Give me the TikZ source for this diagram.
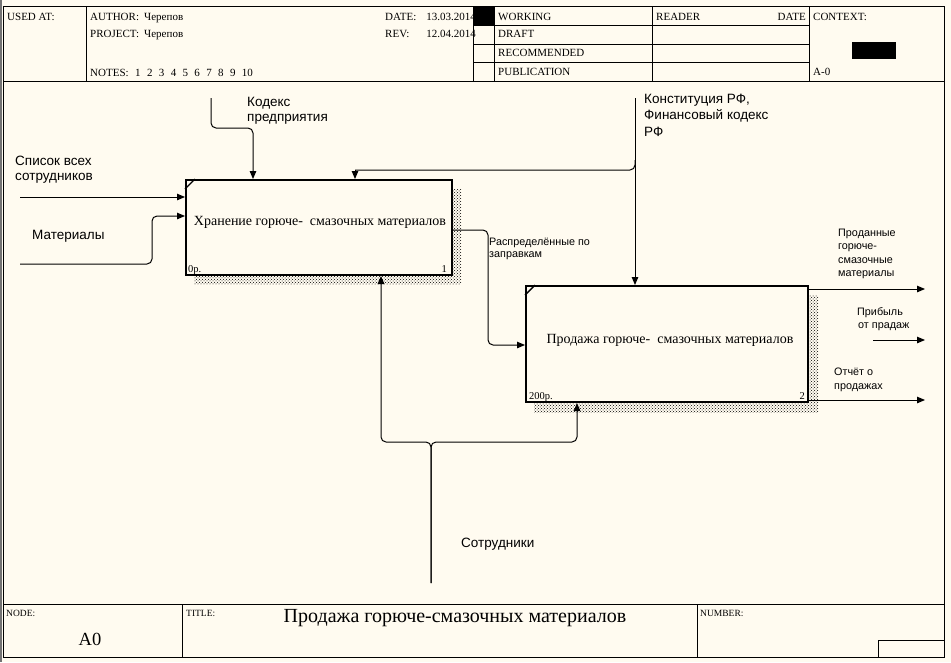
\documentclass[tikz,border=0pt]{standalone}
\usepackage{fontspec}
\setmainfont{Liberation Serif}
\newfontfamily\lsans{Liberation Sans}
\usetikzlibrary{arrows.meta,patterns}
\definecolor{bg}{RGB}{255,251,240}
\begin{document}
\begin{tikzpicture}[x=1pt,y=-1pt,
  frame/.style={line width=1pt},
  conn/.style={line width=1pt, rounded corners=5pt},
  arr/.style={line width=1pt, rounded corners=5pt, -{Triangle[length=8pt,width=6.5pt]}},
  abox/.style={draw, line width=2pt, fill=bg, rectangle, inner sep=0pt},
  shadowfill/.style={pattern=crosshatch dots, pattern color=black},
  hdr/.style={font=\fontsize{11}{12}\selectfont, inner sep=0pt, anchor=base west},
  hdrE/.style={hdr, anchor=base east},
  ftr/.style={font=\fontsize{9.5}{11}\selectfont, inner sep=0pt, anchor=base west},
  lab/.style={font=\lsans\fontsize{13.5}{15}\selectfont, inner sep=0pt, anchor=base west},
  slab/.style={font=\lsans\fontsize{10.8}{12}\selectfont, inner sep=0pt, anchor=base west},
  btxt/.style={font=\fontsize{14}{16}\selectfont, inner sep=0pt, anchor=base},
  bnum/.style={font=\fontsize{10.5}{12}\selectfont, inner sep=0pt},
]
\useasboundingbox (0,0) rectangle (951,662);
\fill[bg] (0,0) rectangle (951,662);
\fill[black!55] (0,0) rectangle (2,662);

% ---------- frame ----------
\draw[frame] (3,6) rectangle (944,657);
\draw[frame] (3,81) -- (944,81);
\draw[frame] (3,604) -- (944,604);
\foreach \xx in {86,473,494,652,809} \draw[frame] (\xx,6) -- (\xx,81);
\foreach \yy in {25,44,62.5} \draw[frame] (473,\yy) -- (809,\yy);
\draw[frame] (182,604) -- (182,657);
\draw[frame] (697,604) -- (697,657);
\draw[frame] (878,640) rectangle (944,657);

% ---------- header texts ----------
\node[hdr] (usedat) at (7,20) {USED AT:};
\node[hdr] (author) at (90,20) {AUTHOR:};
\node[hdr] (authorv) at (144,20) {Черепов};
\node[hdr] (project) at (90,37) {PROJECT:};
\node[hdr] (projectv) at (144,37) {Черепов};
\node[hdr] (notes) at (90,76) {NOTES:};
\foreach \i in {1,...,10} \node[hdr] (note\i) at ({135+11.85*(\i-1)},76) {\i};
\node[hdr] (date) at (385,20) {DATE:};
\node[hdrE] (datev) at (476,20) {13.03.2014};
\node[hdr] (rev) at (385,37) {REV:};
\node[hdrE] (revv) at (476,37) {12.04.2014};
\fill[black] (473,7) rectangle (494,25);
\node[hdr] (working) at (498,20) {WORKING};
\node[hdr] (draft) at (498,37.5) {DRAFT};
\node[hdr] (recom) at (498,56) {RECOMMENDED};
\node[hdr] (publ) at (498,75) {PUBLICATION};
\node[hdr] (reader) at (656,20) {READER};
\node[hdrE] (rdate) at (806,20) {DATE};
\node[hdr] (context) at (813,20) {CONTEXT:};
\fill[black] (852,42) rectangle (896,59);
\node[hdr] (azero) at (813,75) {A-0};

% ---------- footer texts ----------
\node[ftr] (nodel) at (6,616) {NODE:};
\node[font=\fontsize{18.5}{20}\selectfont, inner sep=0pt, anchor=base] (nodev) at (90,645) {A0};
\node[ftr] (titlel) at (186,616) {TITLE:};
\node[font=\fontsize{20}{22}\selectfont, inner sep=0pt, anchor=base] (titlev) at (455,622) {Продажа горюче-смазочных материалов};
\node[ftr] (numberl) at (700,616) {NUMBER:};

% ---------- shadows and boxes ----------
\fill[shadowfill] (194,189) rectangle (461,284);
\fill[shadowfill] (534,295) rectangle (818,412);
\node[abox, minimum width=266pt, minimum height=95pt] (b1) at (319,227.5) {};
\node[abox, minimum width=282pt, minimum height=116pt] (b2) at (667,344) {};
\draw[line width=1.4pt] ([yshift=-10pt]b1.north west) -- ([xshift=10pt]b1.north west);
\draw[line width=1.4pt] ([yshift=-10pt]b2.north west) -- ([xshift=10pt]b2.north west);
\node[btxt] (t1) at (320,225) {Хранение горюче- \ смазочных материалов};
\node[btxt] (t2) at (670,343) {Продажа горюче- \ смазочных материалов};
\node[bnum, anchor=base west] (c1) at (188,272) {0р.};
\node[bnum, anchor=base east] (n1) at (447,272) {1};
\node[bnum, anchor=base west] (c2) at (529,399) {200р.};
\node[bnum, anchor=base east] (n2) at (805,399) {2};

% ---------- coordinates ----------
\coordinate (inA) at (20,197);
\coordinate (inB) at (20,264);
\coordinate (mB) at (152,216);
\coordinate (kodA) at (211,98);
\coordinate (kodM) at (253,128);
\coordinate (konA) at (635,98);
\coordinate (konJ) at (635,160);
\coordinate (konB) at (355,170);
\coordinate (rY) at (488,230);
\coordinate (rM) at (488,345);
\coordinate (q1) at (925,289);
\coordinate (q3) at (925,400);
\coordinate (pS) at (873,340);
\coordinate (pE) at (925,340);
\coordinate (sS) at (431,583);
\coordinate (sL) at (381,442);
\coordinate (sR) at (577,442);

% ---------- connectors ----------
\draw[arr] (inA) -- (inA -| b1.west);
\draw[arr] (inB) -| (mB) -- (mB -| b1.west);
\draw[arr] (kodA) |- (kodM) -- (kodM |- b1.north);
\draw[arr] (konA) -- (konA |- b2.north);
\draw[conn] (konJ) |- (konB);
\draw[arr, rounded corners=0pt] (konB) -- (konB |- b1.north);
\draw[arr] (rY -| b1.east) -- (rY) -- (rM) -- (rM -| b2.west);
\draw[arr] (q1 -| b2.east) -- (q1);
\draw[arr] (q3 -| b2.east) -- (q3);
\draw[arr] (pS) -- (pE);
\draw[arr] (sS) |- (sL) -- (sL |- b1.south);
\draw[arr] (sS) |- (sR) -- (sR |- b2.south);

% ---------- labels ----------
\node[lab] (l1a) at (15,165) {Список всех};
\node[lab] (l1b) at (15,180) {сотрудников};
\node[lab] (l2) at (32,239) {Материалы};
\node[lab] (l3a) at (247,106) {Кодекс};
\node[lab] (l3b) at (247,121) {предприятия};
\node[lab] (l4a) at (644,103) {Конституция РФ,};
\node[lab] (l4b) at (644,119.5) {Финансовый кодекс};
\node[lab] (l4c) at (644,136) {РФ};
\node[slab] (l5a) at (489,245.5) {Распределённые по};
\node[slab] (l5b) at (489,257.5) {заправкам};
\node[slab] (l6a) at (838,236) {Проданные};
\node[slab] (l6b) at (838,249.5) {горюче-};
\node[slab] (l6c) at (838,263) {смазочные};
\node[slab] (l6d) at (838,276) {материалы};
\node[slab] (l7a) at (857,315) {Прибыль};
\node[slab] (l7b) at (858,328) {от прадаж};
\node[slab] (l8a) at (834,375) {Отчёт о};
\node[slab] (l8b) at (834,389) {продажах};
\node[lab] (l9) at (461,547) {Сотрудники};
\end{tikzpicture}
\end{document}
